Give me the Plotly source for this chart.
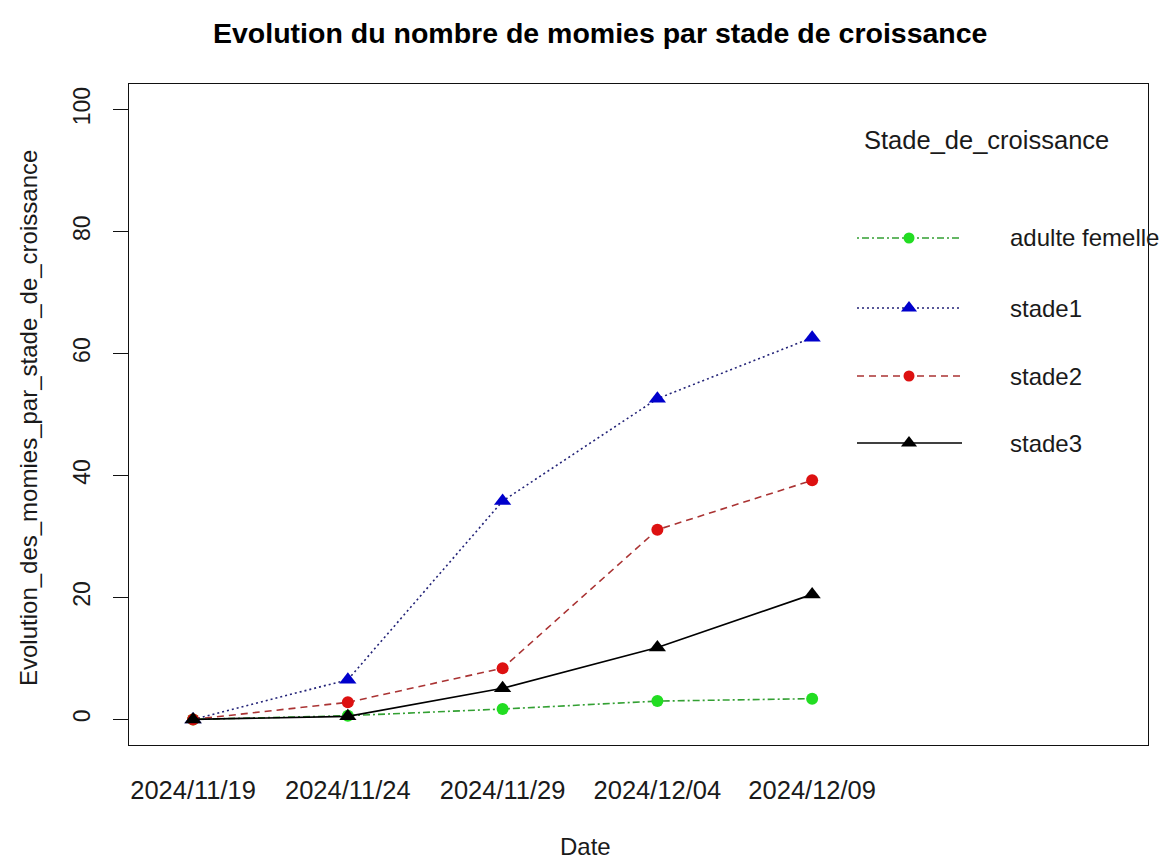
import plotly.graph_objects as go

# ---- data ----
dates = ["2024/11/19", "2024/11/24", "2024/11/29", "2024/12/04", "2024/12/09"]
series_names = ["adulte femelle", "stade1", "stade2", "stade3"]
adulte_femelle = [0, 0.6, 1.7, 3.0, 3.4]
stade1 = [0, 6.5, 35.8, 52.6, 62.6]
stade2 = [0, 2.8, 8.4, 31.1, 39.2]
stade3 = [0, 0.5, 5.1, 11.8, 20.5]
y_ticks = [0, 20, 40, 60, 80, 100]

# ---- layout geometry (screen pixels; page body has an 8px margin) ----
W, H = 1170, 864
OFF = 8
SL, SR, ST, SB = 129, 1148, 84, 745          # plot box on screen
L, R, T, B = SL - OFF, SR - OFF, ST - OFF, SB - OFF  # in figure coords
FONT = "Liberation Sans, Arial, sans-serif"
TXT = "#1a1a1a"


def px_x(sx):
    return (sx - OFF - L) / (R - L)


def px_y(sy):
    return (B - (sy - OFF)) / (B - T)


styles = {
    "adulte femelle": dict(mcol="#22DD22", lcol="#33A033", dash="2px,3px,7px,3px", symbol="circle", size=12),
    "stade1": dict(mcol="#0000CC", lcol="#222277", dash="2px,3px", symbol="triangle-up", size=15),
    "stade2": dict(mcol="#DD1111", lcol="#AA3333", dash="7px,5px", symbol="circle", size=12),
    "stade3": dict(mcol="#000000", lcol="#000000", dash="solid", symbol="triangle-up", size=15),
}
values = {"adulte femelle": adulte_femelle, "stade1": stade1, "stade2": stade2, "stade3": stade3}

xpos = list(range(1, len(dates) + 1))

fig = go.Figure()
for name in series_names:
    s = styles[name]
    fig.add_trace(go.Scatter(
        x=xpos, y=values[name], mode="lines+markers", name=name,
        line=dict(color=s["lcol"], width=1.6, dash=s["dash"]),
        marker=dict(color=s["mcol"], symbol=s["symbol"], size=s["size"], line=dict(width=0)),
        showlegend=False, xaxis="x", yaxis="y",
    ))

# ---- manual legend on a pixel overlay axis (screen coordinates) ----
leg_rows = [238, 308, 376, 443]
lx0, lxm, lx1, ltext = 857, 909, 962, 1008
for name, ry in zip(series_names, leg_rows):
    s = styles[name]
    fig.add_trace(go.Scatter(x=[lx0, lx1], y=[ry, ry], mode="lines",
                             line=dict(color=s["lcol"], width=1.6, dash=s["dash"]),
                             showlegend=False, hoverinfo="skip", xaxis="x2", yaxis="y2"))
    fig.add_trace(go.Scatter(x=[lxm], y=[ry], mode="markers",
                             marker=dict(color=s["mcol"], symbol=s["symbol"], size=s["size"] - 1, line=dict(width=0)),
                             showlegend=False, hoverinfo="skip", xaxis="x2", yaxis="y2"))

annotations = [dict(x=px_x(ltext), y=px_y(ry), xref="paper", yref="paper", text=name, showarrow=False,
                    xanchor="left", yanchor="middle", font=dict(size=24, color=TXT, family=FONT))
               for name, ry in zip(series_names, leg_rows)]
annotations.append(dict(x=px_x(862), y=px_y(140), xref="paper", yref="paper", text="Stade_de_croissance",
                        showarrow=False, xanchor="left", yanchor="middle",
                        font=dict(size=25.5, color=TXT, family=FONT)))
# title and axis titles
annotations.append(dict(x=px_x(600), y=px_y(33), xref="paper", yref="paper",
                        text="<b>Evolution du nombre de momies par stade de croissance</b>",
                        showarrow=False, xanchor="center", yanchor="middle",
                        font=dict(size=28.5, color="#000", family=FONT)))
annotations.append(dict(x=px_x(585), y=px_y(846), xref="paper", yref="paper", text="Date", showarrow=False,
                        xanchor="center", yanchor="middle", font=dict(size=24, color=TXT, family=FONT)))
annotations.append(dict(x=px_x(28), y=px_y(418), xref="paper", yref="paper",
                        text="Evolution_des_momies_par_stade_de_croissance",
                        showarrow=False, textangle=-90, xanchor="center", yanchor="middle",
                        font=dict(size=24, color=TXT, family=FONT)))

fig.update_layout(
    width=W, height=H,
    margin=dict(l=L, r=W - R, t=T, b=H - B, pad=0),
    paper_bgcolor="white", plot_bgcolor="white",
    font=dict(family=FONT, color=TXT),
    xaxis=dict(range=[0.586, 7.17], tickmode="array", tickvals=xpos, ticktext=dates,
               showgrid=False, zeroline=False, showline=True, mirror=True, linecolor="#111", linewidth=1.3,
               ticks="", ticklabelstandoff=22, tickfont=dict(size=25.5, color=TXT, family=FONT)),
    yaxis=dict(range=[-4.2, 104.2], tickmode="array", tickvals=y_ticks, ticktext=[str(v) for v in y_ticks],
               showgrid=False, zeroline=False, showline=True, mirror=True, linecolor="#111", linewidth=1.3,
               ticks="outside", ticklen=15, tickcolor="#111", tickwidth=1, tickangle=-90,
               ticklabelstandoff=14, tickfont=dict(size=23, color=TXT, family=FONT)),
    xaxis2=dict(range=[SL, SR], overlaying="x", visible=False, fixedrange=True),
    yaxis2=dict(range=[SB, ST], overlaying="y", visible=False, fixedrange=True),
    annotations=annotations,
)

fig.write_html("out.html")
